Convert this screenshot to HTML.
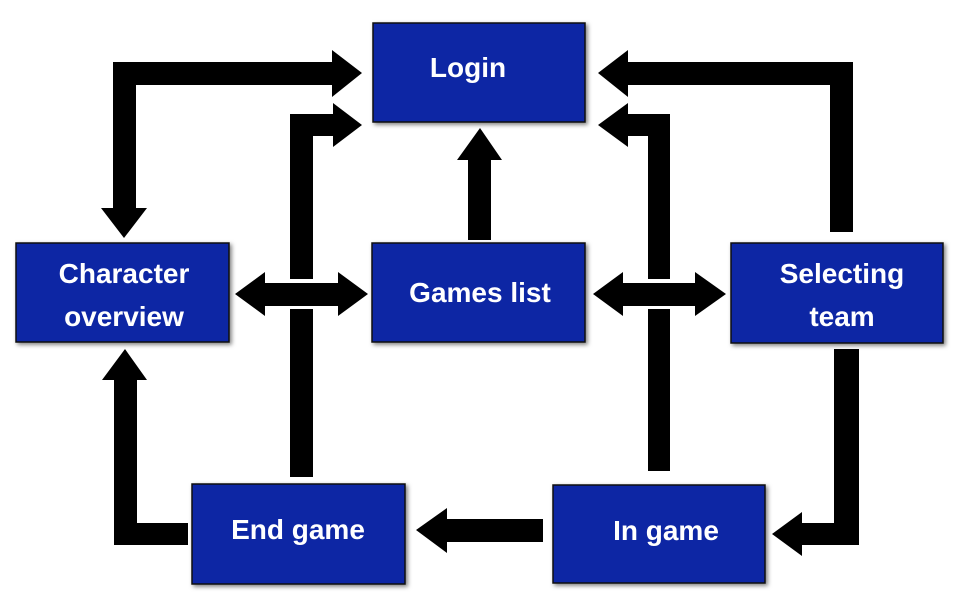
<!DOCTYPE html>
<html><head><meta charset="utf-8"><style>
html,body{margin:0;padding:0;background:#fff;width:960px;height:606px;overflow:hidden}
svg{display:block}
text{font-family:"Liberation Sans",sans-serif;font-weight:bold;font-size:28px;fill:#fff;text-anchor:middle}
</style></head><body>
<svg width="960" height="606" viewBox="0 0 960 606">
<defs><filter id="sh" x="-10%" y="-10%" width="130%" height="130%"><feDropShadow dx="2" dy="2" stdDeviation="2" flood-color="#000" flood-opacity="0.5"/></filter></defs>
<g fill="#000">
<!-- Char <-> Login -->
<polygon points="113,208 113,62 332,62 332,50 362,73 332,97 332,85 136,85 136,208 147,208 124,238 101,208"/>
<!-- End game -> Login -->
<rect x="290" y="309" width="23" height="168"/>
<polygon points="290,279 290,114 333,114 333,103 362,125 333,147 333,136 313,136 313,279"/>
<!-- Games <-> Char -->
<polygon points="235,294 265,272 265,283 338,283 338,272 368,294 338,316 338,306 265,306 265,316"/>
<!-- Games -> Login -->
<polygon points="468,240 468,160 457,160 480,128 502,160 491,160 491,240"/>
<!-- Selecting -> Login -->
<polygon points="830,232 830,85 628,85 628,97 598,73 628,50 628,62 853,62 853,232"/>
<!-- In game -> Login -->
<rect x="648" y="309" width="22" height="162"/>
<polygon points="648,279 648,136 628,136 628,147 598,125 628,103 628,114 670,114 670,279"/>
<!-- Games <-> Selecting -->
<polygon points="593,294 623,272 623,283 695,283 695,272 726,294 695,316 695,306 623,306 623,316"/>
<!-- Selecting -> In game -->
<polygon points="834,349 859,349 859,545 802,545 802,556 772,534 802,512 802,523 834,523"/>
<!-- In game -> End game -->
<polygon points="543,519 543,542 447,542 447,553 416,530 447,508 447,519"/>
<!-- End game -> Char -->
<polygon points="188,523 188,545 114,545 114,380 102,380 125,349 147,380 137,380 137,523"/>
</g>
<g fill="#0c28a4" stroke="#111" stroke-width="1.5" filter="url(#sh)">
<rect x="373" y="23" width="212" height="99"/>
<rect x="16" y="243" width="213" height="99"/>
<rect x="372" y="243" width="213" height="99"/>
<rect x="731" y="243" width="212" height="100"/>
<rect x="192" y="484" width="213" height="100"/>
<rect x="553" y="485" width="212" height="98"/>
</g>
<text x="468" y="77">Login</text>
<text x="124" y="283">Character</text>
<text x="124" y="326">overview</text>
<text x="480" y="302">Games list</text>
<text x="842" y="283">Selecting</text>
<text x="842" y="326">team</text>
<text x="298" y="539">End game</text>
<text x="666" y="540">In game</text>
</svg>
</body></html>
